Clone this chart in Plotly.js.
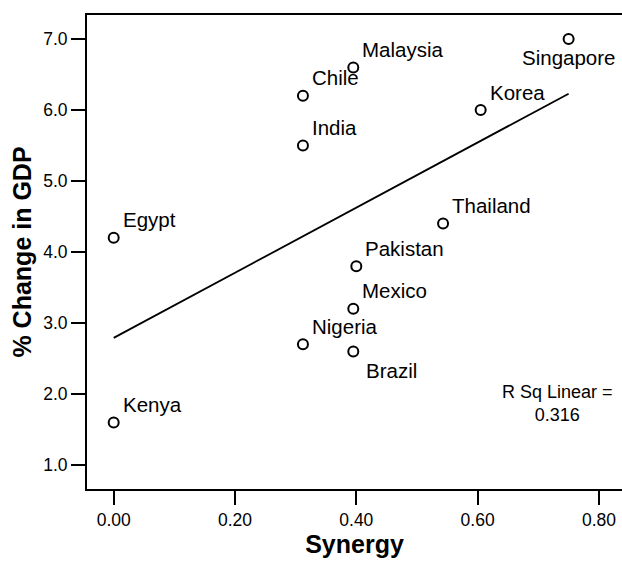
<!DOCTYPE html>
<html>
<head>
<meta charset="utf-8">
<script src="https://cdn.plot.ly/plotly-3.0.1.min.js"></script>
<style>html,body{margin:0;padding:0;background:#fff;}#chart{width:622px;height:562px;}</style>
</head>
<body>
<div id="chart"></div>
<script>
// ---- data ----
const countries = ['Singapore','Korea','Malaysia','Chile','India','Thailand','Egypt','Pakistan','Mexico','Nigeria','Brazil','Kenya'];
const synergy   = [0.75, 0.605, 0.395, 0.312, 0.312, 0.543, 0.00, 0.40, 0.395, 0.312, 0.395, 0.00];
const gdpChange = [7.0, 6.0, 6.6, 6.2, 5.5, 4.4, 4.2, 3.8, 3.2, 2.7, 2.6, 1.6];
// fitted linear regression line endpoints (as drawn)
const fitSynergy = [0.00, 0.75];
const fitGdp     = [2.79, 6.23];
const rSquared = '0.316';

// ---- label placement (style) ----
const FONT = 'Liberation Sans, Arial, Helvetica, sans-serif';
const place = {Singapore: 'below', Brazil: 'belowRight'};
const annots = countries.map((c, i) => {
  const p = place[c] || 'aboveRight';
  const a = {x: synergy[i], y: gdpChange[i], xref: 'x', yref: 'y', text: c, showarrow: false,
             font: {family: FONT, size: 20.5, color: '#000'}, yanchor: 'middle'};
  if (p === 'aboveRight') { a.xanchor = 'left'; a.xshift = 7; a.yshift = 18; }
  else if (p === 'belowRight') { a.xanchor = 'left'; a.xshift = 11; a.yshift = -19; }
  else { a.xanchor = 'center'; a.xshift = 0; a.yshift = -18.5; }
  return a;
});
annots.push({x: 0.732, y: 1.86, xref: 'x', yref: 'y', text: 'R Sq Linear =<br>' + rSquared,
  showarrow: false, align: 'center', xanchor: 'center', yanchor: 'middle',
  font: {family: FONT, size: 18, color: '#000'}});

const traces = [
  {x: fitSynergy, y: fitGdp, mode: 'lines', type: 'scatter', line: {color: '#000', width: 1.8},
   hoverinfo: 'skip', showlegend: false},
  {x: synergy, y: gdpChange, mode: 'markers', type: 'scatter', text: countries,
   marker: {symbol: 'circle-open', size: 10, color: '#000', line: {color: '#000', width: 2}},
   showlegend: false}
];

const layout = {
  width: 622, height: 562,
  margin: {l: 87, r: 0, t: 15, b: 73},
  paper_bgcolor: '#fff', plot_bgcolor: '#fff',
  font: {family: FONT, color: '#000'},
  xaxis: {range: [-0.044, 0.838], tick0: 0, dtick: 0.2, tickformat: '.2f',
          showgrid: false, zeroline: false, showline: true, mirror: true, linecolor: '#000', linewidth: 2,
          ticks: 'outside', ticklen: 14, tickwidth: 2, tickcolor: '#000',
          tickfont: {family: FONT, size: 17.5, color: '#000'}, automargin: false,
          title: {text: 'Synergy', font: {family: FONT, size: 25, weight: 'bold', color: '#000'}, standoff: 4}},
  yaxis: {range: [0.662, 7.338], tick0: 0, dtick: 1, tickformat: '.1f',
          showgrid: false, zeroline: false, showline: true, mirror: false, linecolor: '#000', linewidth: 2,
          ticks: 'outside', ticklen: 14, tickwidth: 2, tickcolor: '#000',
          tickfont: {family: FONT, size: 17.5, color: '#000'}, automargin: false,
          title: {text: '% Change in GDP', font: {family: FONT, size: 25, weight: 'bold', color: '#000'}, standoff: 4}},
  annotations: annots
};

Plotly.newPlot('chart', traces, layout, {staticPlot: true, displayModeBar: false});
</script>
</body>
</html>
